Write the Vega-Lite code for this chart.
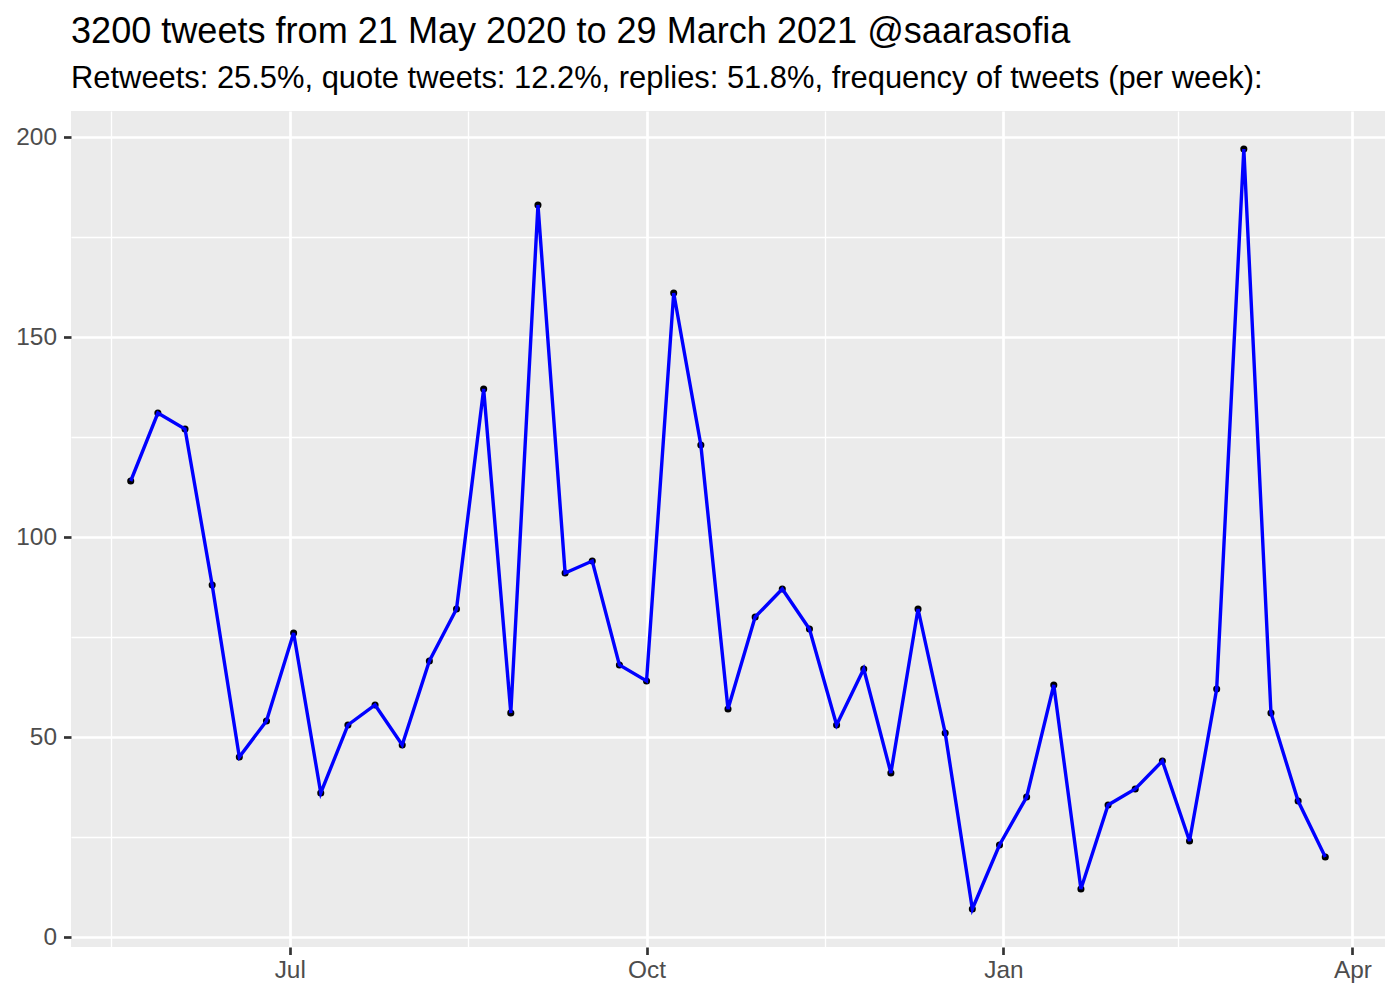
{
  "$schema": "https://vega.github.io/schema/vega-lite/v6.json",
  "width": 1314,
  "height": 836,
  "autosize": "none",
  "padding": {"left": 71, "top": 111, "right": 15, "bottom": 53},
  "background": "white",
  "config": {
    "view": {"fill": "#EBEBEB", "stroke": null},
    "font": "Liberation Sans"
  },
  "title": {
    "text": "3200 tweets from 21 May 2020 to 29 March 2021 @saarasofia",
    "subtitle": "Retweets: 25.5%, quote tweets: 12.2%, replies: 51.8%, frequency of tweets (per week):",
    "anchor": "start",
    "frame": "group",
    "font": "Liberation Sans",
    "fontSize": 36.1,
    "fontWeight": "normal",
    "color": "black",
    "subtitleFont": "Liberation Sans",
    "subtitleFontSize": 30.9,
    "subtitleColor": "black",
    "subtitlePadding": 14,
    "offset": 17
  },
  "data": {
    "values": [
      {"date": "2020-05-21", "n": 114},
      {"date": "2020-05-28", "n": 131},
      {"date": "2020-06-04", "n": 127},
      {"date": "2020-06-11", "n": 88},
      {"date": "2020-06-18", "n": 45},
      {"date": "2020-06-25", "n": 54},
      {"date": "2020-07-02", "n": 76},
      {"date": "2020-07-09", "n": 36},
      {"date": "2020-07-16", "n": 53},
      {"date": "2020-07-23", "n": 58},
      {"date": "2020-07-30", "n": 48},
      {"date": "2020-08-06", "n": 69},
      {"date": "2020-08-13", "n": 82},
      {"date": "2020-08-20", "n": 137},
      {"date": "2020-08-27", "n": 56},
      {"date": "2020-09-03", "n": 183},
      {"date": "2020-09-10", "n": 91},
      {"date": "2020-09-17", "n": 94},
      {"date": "2020-09-24", "n": 68},
      {"date": "2020-10-01", "n": 64},
      {"date": "2020-10-08", "n": 161},
      {"date": "2020-10-15", "n": 123},
      {"date": "2020-10-22", "n": 57},
      {"date": "2020-10-29", "n": 80},
      {"date": "2020-11-05", "n": 87},
      {"date": "2020-11-12", "n": 77},
      {"date": "2020-11-19", "n": 53},
      {"date": "2020-11-26", "n": 67},
      {"date": "2020-12-03", "n": 41},
      {"date": "2020-12-10", "n": 82},
      {"date": "2020-12-17", "n": 51},
      {"date": "2020-12-24", "n": 7},
      {"date": "2020-12-31", "n": 23},
      {"date": "2021-01-07", "n": 35},
      {"date": "2021-01-14", "n": 63},
      {"date": "2021-01-21", "n": 12},
      {"date": "2021-01-28", "n": 33},
      {"date": "2021-02-04", "n": 37},
      {"date": "2021-02-11", "n": 44},
      {"date": "2021-02-18", "n": 24},
      {"date": "2021-02-25", "n": 62},
      {"date": "2021-03-04", "n": 197},
      {"date": "2021-03-11", "n": 56},
      {"date": "2021-03-18", "n": 34},
      {"date": "2021-03-25", "n": 20}
    ]
  },
  "encoding": {
    "x": {
      "field": "date",
      "type": "temporal",
      "title": null,
      "scale": {
        "type": "utc",
        "domain": [
          {"year": 2020, "month": 5, "date": 5, "hours": 14, "minutes": 24, "utc": true},
          {"year": 2021, "month": 4, "date": 9, "hours": 9, "minutes": 36, "utc": true}
        ]
      },
      "axis": {
        "values": [
          {"year": 2020, "month": 5, "date": 16, "utc": true},
          {"year": 2020, "month": 7, "date": 1, "utc": true},
          {"year": 2020, "month": 8, "date": 16, "utc": true},
          {"year": 2020, "month": 10, "date": 1, "utc": true},
          {"year": 2020, "month": 11, "date": 16, "utc": true},
          {"year": 2021, "month": 1, "date": 1, "utc": true},
          {"year": 2021, "month": 2, "date": 15, "utc": true},
          {"year": 2021, "month": 4, "date": 1, "utc": true}
        ],
        "labelExpr": "utcdate(datum.value) === 1 ? utcFormat(datum.value, '%b') : ''",
        "grid": true,
        "gridColor": "white",
        "gridWidth": {"condition": {"test": "utcdate(datum.value) === 1", "value": 2.7}, "value": 1.35},
        "tickOpacity": {"condition": {"test": "utcdate(datum.value) === 1", "value": 1}, "value": 0},
        "tickColor": "#333333",
        "tickWidth": 2.7,
        "tickSize": 7.5,
        "domain": false,
        "labelFont": "Liberation Sans",
        "labelFontSize": 24.4,
        "labelColor": "#4D4D4D",
        "labelPadding": 4,
        "labelFlush": false,
        "labelOverlap": false
      }
    },
    "y": {
      "field": "n",
      "type": "quantitative",
      "title": null,
      "scale": {"domain": [-2.5, 206.5], "nice": false, "zero": false},
      "axis": {
        "values": [0, 25, 50, 75, 100, 125, 150, 175, 200],
        "labelExpr": "datum.value % 50 === 0 ? datum.label : ''",
        "grid": true,
        "gridColor": "white",
        "gridWidth": {"condition": {"test": "datum.value % 50 === 0", "value": 2.7}, "value": 1.35},
        "tickOpacity": {"condition": {"test": "datum.value % 50 === 0", "value": 1}, "value": 0},
        "tickColor": "#333333",
        "tickWidth": 2.7,
        "tickSize": 7.5,
        "domain": false,
        "labelFont": "Liberation Sans",
        "labelFontSize": 24.4,
        "labelColor": "#4D4D4D",
        "labelPadding": 7,
        "labelFlush": false,
        "labelOverlap": false
      }
    }
  },
  "layer": [
    {
      "mark": {"type": "point", "filled": true, "color": "black", "size": 50, "opacity": 1}
    },
    {
      "mark": {"type": "line", "color": "#0000FF", "strokeWidth": 3.4}
    }
  ]
}
